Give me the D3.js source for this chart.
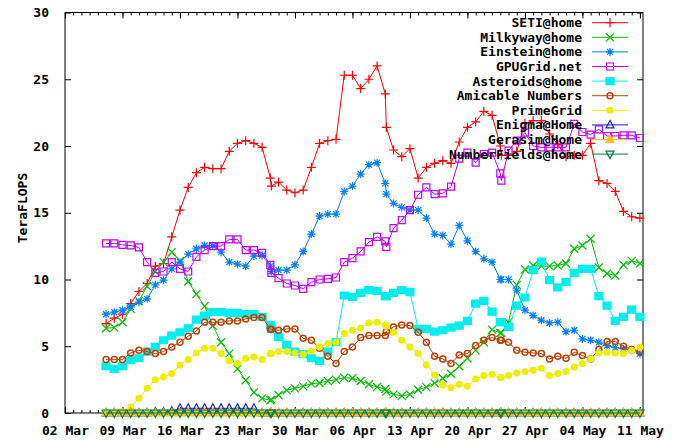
<!DOCTYPE html>
<html>
<head>
<meta charset="utf-8">
<script src="https://cdn.jsdelivr.net/npm/d3@7"></script>
<style>
  body { margin: 0; background: #fff; }
  text { font-family: 'DejaVu Sans Mono', 'Liberation Mono', monospace; font-weight: bold; font-size: 13px; fill: #000; }
</style>
</head>
<body>
<svg id="chart" width="675" height="440"></svg>
<script>
// sample times (2017), some days have a second sample a few hours later
const dates = [
  '03-07', '03-08', '03-09', '03-10', '03-11', '03-12', '03-13', '03-14', '03-15', '03-16',
  '03-17', '03-18', '03-19', '03-20', '03-21', '03-22', '03-23', '03-24', '03-25', '03-26',
  '03-27', '03-27 03',
  '03-28', '03-29', '03-30', '03-31', '04-01', '04-02', '04-03', '04-04', '04-05', '04-06',
  '04-07', '04-08', '04-09',
  '04-10', '04-10 03',
  '04-11', '04-12', '04-13', '04-14', '04-15', '04-16', '04-17', '04-18', '04-19', '04-20',
  '04-21', '04-22', '04-23',
  '04-24', '04-24 03',
  '04-25', '04-26', '04-27', '04-28', '04-29', '04-30', '05-01', '05-02', '05-03', '05-04',
  '05-05', '05-06', '05-07', '05-08', '05-09', '05-10', '05-11'
];

const seti = [
  6.7, 7.1, 7.4, 8.2, 9.1, 9.7, 11.0, 11.2, 13.2, 15.2, 16.9, 18.0, 18.4, 18.3, 18.3, 19.6, 20.2, 20.4, 20.2, 19.9,
  17.6, 17.0,
  17.3, 16.7, 16.5, 16.7, 18.4, 20.2, 20.4, 20.5, 25.3, 25.3, 24.3, 25.0, 26.0,
  23.9, 21.4,
  19.7, 19.2, 19.8, 17.6, 18.4, 18.7, 18.9, 18.7, 20.3, 21.4, 21.8, 22.6, 22.3,
  20.0, 19.3,
  19.3, 19.6, 21.7, 21.9, 21.9, 20.9, 20.1, 19.2, 19.3, 19.3, 20.2, 17.4, 17.2, 16.6, 15.1, 14.7, 14.6
];
const milkyway = [
  6.35, 6.4, 6.8, 7.8, 8.4, 9.5, 10.6, 11.3, 12.05, 11.4, 9.85, 8.9, 8.0, 6.55, 5.3, 4.45, 3.3, 2.45, 1.55, 1.1,
  0.95, 1.0,
  1.35, 1.7, 1.85, 2.0, 2.2, 2.25, 2.4, 2.5, 2.65, 2.6, 2.4, 2.15, 1.95,
  1.8, 1.6,
  1.4, 1.28, 1.39, 1.74, 1.94, 2.24, 2.6, 2.94, 3.5, 4.1, 4.69, 5.3, 6.25,
  6.0, 6.0,
  6.8, 9.6, 10.75, 11.05, 11.0, 11.0, 11.05, 11.2, 12.3, 12.55, 13.05, 10.9, 10.45, 10.3, 11.1, 11.4, 11.2
];
const einstein = [
  7.4, 7.55, 7.7, 7.95, 8.3, 8.55, 9.6, 9.95, 10.8, 11.3, 11.9, 12.3, 12.55, 12.55, 12.05, 11.3, 11.15, 11.0, 11.75, 11.8,
  11.0, 10.6,
  10.7, 10.7, 11.1, 12.1, 13.4, 14.75, 14.9, 14.9, 16.6, 17.0, 17.9, 18.6, 18.75,
  17.2, 16.4,
  15.7, 15.4, 15.2, 15.2, 14.6, 13.4, 13.3, 12.65, 14.05, 12.9, 12.1, 11.55, 11.3,
  10.0, 10.0,
  10.0, 9.2, 7.7, 7.3, 6.95, 6.75, 6.8, 6.1, 6.2, 5.55, 5.45, 5.3, 5.05, 4.9, 4.8, 4.7, 4.45
];
const gpugrid = [
  12.7, 12.7, 12.6, 12.55, 12.4, 11.3, 10.5, 10.6, 11.3, 10.8, 10.6, 11.7, 12.2, 12.5, 12.5, 13.0, 13.0, 12.2, 12.2, 12.0,
  11.1, 10.5,
  10.1, 9.7, 9.55, 9.3, 9.8, 10.0, 10.05, 10.15, 11.3, 11.6, 12.1, 12.8, 13.2,
  12.85, 12.45,
  13.85, 14.45, 15.2, 16.35, 16.9, 16.4, 16.45, 16.95, 19.05, 19.5, 18.75, 19.4, 19.5,
  17.95, 17.4,
  19.65, 20.4, 21.0, 20.0, 19.9, 19.9, 19.9, 19.9, 21.65, 21.05, 20.85, 21.25, 20.75, 20.75, 20.8, 20.8, 20.6
];
const asteroids = [
  3.5, 3.3, 3.5, 3.95, 4.1, 4.6, 4.95, 5.45, 5.8, 6.05, 6.35, 7.0, 7.3, 7.55, 7.55, 7.5, 7.5, 7.4, 7.4, 7.2,
  6.6, 6.3,
  5.7, 5.1, 4.6, 4.4, 4.1, 3.9, 4.6, 5.3, 8.8, 8.7, 9.0, 9.2, 9.15,
  8.75, 8.75,
  9.0, 9.2, 9.05, 6.3, 6.3, 6.1, 6.2, 6.4, 6.55, 6.9, 8.2, 8.4, 7.6,
  6.8, 6.8,
  6.45, 8.05, 8.65, 10.7, 11.35, 9.95, 9.4, 9.8, 10.5, 10.8, 10.8, 8.75, 8.05, 6.9, 7.2, 7.75, 7.2
];
const amicable = [
  4.0, 4.0, 4.0, 4.5, 4.7, 4.6, 4.45, 4.6, 4.95, 5.3, 5.75, 6.15, 6.8, 6.8, 6.8, 6.9, 6.9, 7.05, 7.15, 7.15,
  6.3, 6.25,
  6.2, 6.3, 6.3, 5.6, 5.45, 4.85, 4.25, 3.7, 4.6, 4.95, 5.65, 5.8, 5.8,
  5.8, 6.1,
  6.45, 6.6, 6.55, 6.05, 5.3, 4.25, 4.05, 3.7, 4.35, 4.45, 5.05, 5.45, 5.65,
  5.45, 5.45,
  5.3, 4.7, 4.55, 4.5, 4.45, 4.05, 4.25, 4.1, 4.55, 4.3, 4.05, 4.75, 5.35, 5.35, 5.0, 4.75, 4.6
];
const primegrid = [
  0, 0, 0.1, 0.45, 1.1, 1.85, 2.5, 2.7, 2.95, 3.6, 4.0, 4.5, 4.85, 4.85, 4.45, 3.9, 3.7, 4.1, 4.2, 4.0,
  4.45, 4.45,
  4.6, 4.6, 4.5, 4.4, 4.65, 4.95, 5.2, 5.3, 5.95, 6.2, 6.35, 6.75, 6.8,
  6.6, 6.5,
  6.05, 5.45, 4.95, 4.45, 3.6, 2.85, 2.1, 1.9, 2.15, 2.0, 2.55, 2.8, 2.9,
  2.65, 2.65,
  2.8, 3.0, 3.1, 3.2, 3.35, 2.8, 2.95, 3.1, 3.45, 3.7, 4.05, 4.5, 4.55, 4.5, 4.45, 4.7, 4.95
];
const enigma = [
  0, 0, 0, 0, 0, 0, 0.08, 0.08, 0.12, 0.35, 0.35, 0.35, 0.35, 0.35, 0.35, 0.35, 0.35, 0.35, 0.35, 0,
  0, 0,
  0, 0, 0, 0, 0, 0, 0, 0, 0, 0, 0, 0, 0,
  0, 0,
  0, 0, 0, 0, 0, 0, 0, 0, 0, 0, 0, 0, 0,
  0, 0,
  0, 0, 0, 0, 0, 0, 0, 0, 0, 0, 0, 0, 0, 0, 0, 0, 0
];
const gerasim = [
  0, 0, 0, 0, 0, 0, 0, 0, 0, 0, 0, 0, 0, 0, 0, 0, 0, 0, 0, 0,
  0, 0,
  0, 0, 0, 0, 0, 0, 0, 0, 0, 0, 0, 0, 0,
  0, 0,
  0, 0, 0, 0, 0, 0, 0, 0, 0, 0, 0, 0, 0,
  0, 0,
  0, 0, 0, 0, 0, 0, 0, 0, 0, 0, 0, 0, 0, 0, 0, 0, 0
];
const numberfields = [
  0, 0, 0, 0, 0, 0, 0, 0, 0, 0, 0, 0, 0, 0, 0, 0, 0, 0, 0, 0,
  0, 0,
  0, 0, 0, 0, 0, 0, 0, 0, 0, 0, 0, 0, 0,
  0, 0,
  0, 0, 0, 0, 0, 0, 0, 0, 0, 0, 0, 0, 0,
  0, 0,
  0, 0, 0, 0, 0, 0, 0, 0, 0, 0, 0, 0, 0, 0, 0, 0, 0
];

const names = ['SETI@home', 'Milkyway@home', 'Einstein@home', 'GPUGrid.net', 'Asteroids@home',
  'Amicable Numbers', 'PrimeGrid', 'Enigma@Home', 'Gerasim@Home', 'NumberFields@home'];
const xTickLabels = ['02 Mar', '09 Mar', '16 Mar', '23 Mar', '30 Mar', '06 Apr', '13 Apr',
  '20 Apr', '27 Apr', '04 May', '11 May'];
const yTicks = [0, 5, 10, 15, 20, 25, 30];

// styles
const colors = ['#ff0000', '#00c000', '#0080ff', '#c000ff', '#00eeee',
  '#c04000', '#eeee00', '#2020c0', '#ffc020', '#008040'];
const markers = ['plus', 'cross', 'star', 'box', 'fbox', 'circle', 'fcircle', 'tri', 'ftri', 'itri'];

const values = [seti, milkyway, einstein, gpugrid, asteroids, amicable, primegrid, enigma, gerasim, numberfields];

const parseT = d3.utcParse('%Y-%m-%d %H');
const toDate = s => parseT('2017-' + (s.length === 5 ? s + ' 00' : s));
const parseLabel = d3.utcParse('%d %b %Y');

const svg = d3.select('#chart');
const plotLeft = 65, plotRight = 643, plotTop = 12.5, plotBottom = 413;

const x = d3.scaleUtc()
  .domain([toDate('03-02'), toDate('05-11 09')])
  .range([plotLeft, plotRight]);
const y = d3.scaleLinear().domain([0, 30]).range([plotBottom, plotTop]);

// border
svg.append('rect')
  .attr('x', plotLeft).attr('y', plotTop)
  .attr('width', plotRight - plotLeft).attr('height', plotBottom - plotTop)
  .attr('fill', 'none').attr('stroke', '#000').attr('stroke-width', 1);

const tickDates = xTickLabels.map(s => parseLabel(s + ' 2017'));
const days = d3.utcDay.range(toDate('03-02'), toDate('05-11 01'));

function axisG(axis, tx, ty) {
  const g = svg.append('g').attr('transform', `translate(${tx},${ty})`).call(axis);
  g.select('.domain').remove();
  g.selectAll('line').attr('stroke', '#000');
  g.selectAll('text').attr('font-family', null).attr('font-size', null);
  return g;
}

// x axis, bottom and top, minor daily ticks
axisG(d3.axisBottom(x).tickValues(days).tickSize(-3).tickFormat(''), 0, plotBottom);
axisG(d3.axisTop(x).tickValues(days).tickSize(-3).tickFormat(''), 0, plotTop);
axisG(d3.axisBottom(x).tickValues(tickDates).tickSize(-6).tickPadding(13)
  .tickFormat((d, i) => xTickLabels[i]), 0, plotBottom);
axisG(d3.axisTop(x).tickValues(tickDates).tickSize(-6).tickFormat(''), 0, plotTop);

// y axis, both sides
axisG(d3.axisLeft(y).tickValues(yTicks).tickSize(-6).tickPadding(16), plotLeft, 0);
axisG(d3.axisRight(y).tickValues(yTicks).tickSize(-6).tickFormat(''), plotRight, 0);

svg.append('text')
  .attr('transform', 'translate(22,208) rotate(-90)')
  .attr('text-anchor', 'middle')
  .attr('dy', '0.35em')
  .text('TeraFLOPS');

function drawMarker(sel, type, color) {
  const s = 4;
  const paths = {
    plus: `M${-s - 0.5},0H${s + 0.5}M0,${-s - 0.5}V${s + 0.5}`,
    cross: `M${-s},${-s}L${s},${s}M${-s},${s}L${s},${-s}`,
    star: `M${-s},0H${s}M0,${-s}V${s}M-3,-3L3,3M-3,3L3,-3`,
    box: 'M-3.5,-3.5H3.5V3.5H-3.5Z',
    fbox: 'M-4,-3.5H4V3.5H-4Z',
    tri: 'M0,-4.5L4,3L-4,3Z',
    ftri: 'M0,-4.5L4,3L-4,3Z',
    itri: 'M0,4.5L4,-3L-4,-3Z'
  };
  if (type === 'circle') {
    sel.append('circle').attr('r', 3).attr('fill', 'none')
      .attr('stroke', color).attr('stroke-width', 1.5);
  } else if (type === 'fcircle') {
    sel.append('circle').attr('r', 3.5).attr('fill', color);
  } else {
    const filled = type === 'fbox' || type === 'ftri';
    sel.append('path').attr('d', paths[type])
      .attr('fill', filled ? color : 'none')
      .attr('stroke', color).attr('stroke-width', 1.2);
  }
}

const line = d3.line()
  .x(d => x(d.t))
  .y(d => y(d.v));

const keyX = 582, keyY = 22.7, keyStep = 14.6;

names.forEach((name, k) => {
  const color = colors[k];
  const pts = dates.map((s, i) => ({ t: toDate(s), v: values[k][i] }));

  // key entry
  const ky = keyY + k * keyStep;
  svg.append('text')
    .attr('x', keyX).attr('y', ky).attr('dy', '0.35em')
    .attr('text-anchor', 'end')
    .text(name);
  svg.append('line')
    .attr('x1', 592).attr('x2', 628).attr('y1', ky).attr('y2', ky)
    .attr('stroke', color).attr('stroke-width', 1);
  drawMarker(svg.append('g').attr('transform', `translate(610,${ky})`), markers[k], color);

  // series
  svg.append('path')
    .datum(pts)
    .attr('fill', 'none')
    .attr('stroke', color)
    .attr('stroke-width', 1)
    .attr('d', line);

  svg.append('g')
    .selectAll('g')
    .data(pts)
    .enter()
    .append('g')
    .attr('transform', d => `translate(${x(d.t)},${y(d.v)})`)
    .each(function () {
      drawMarker(d3.select(this), markers[k], color);
    });
});
</script>
</body>
</html>
